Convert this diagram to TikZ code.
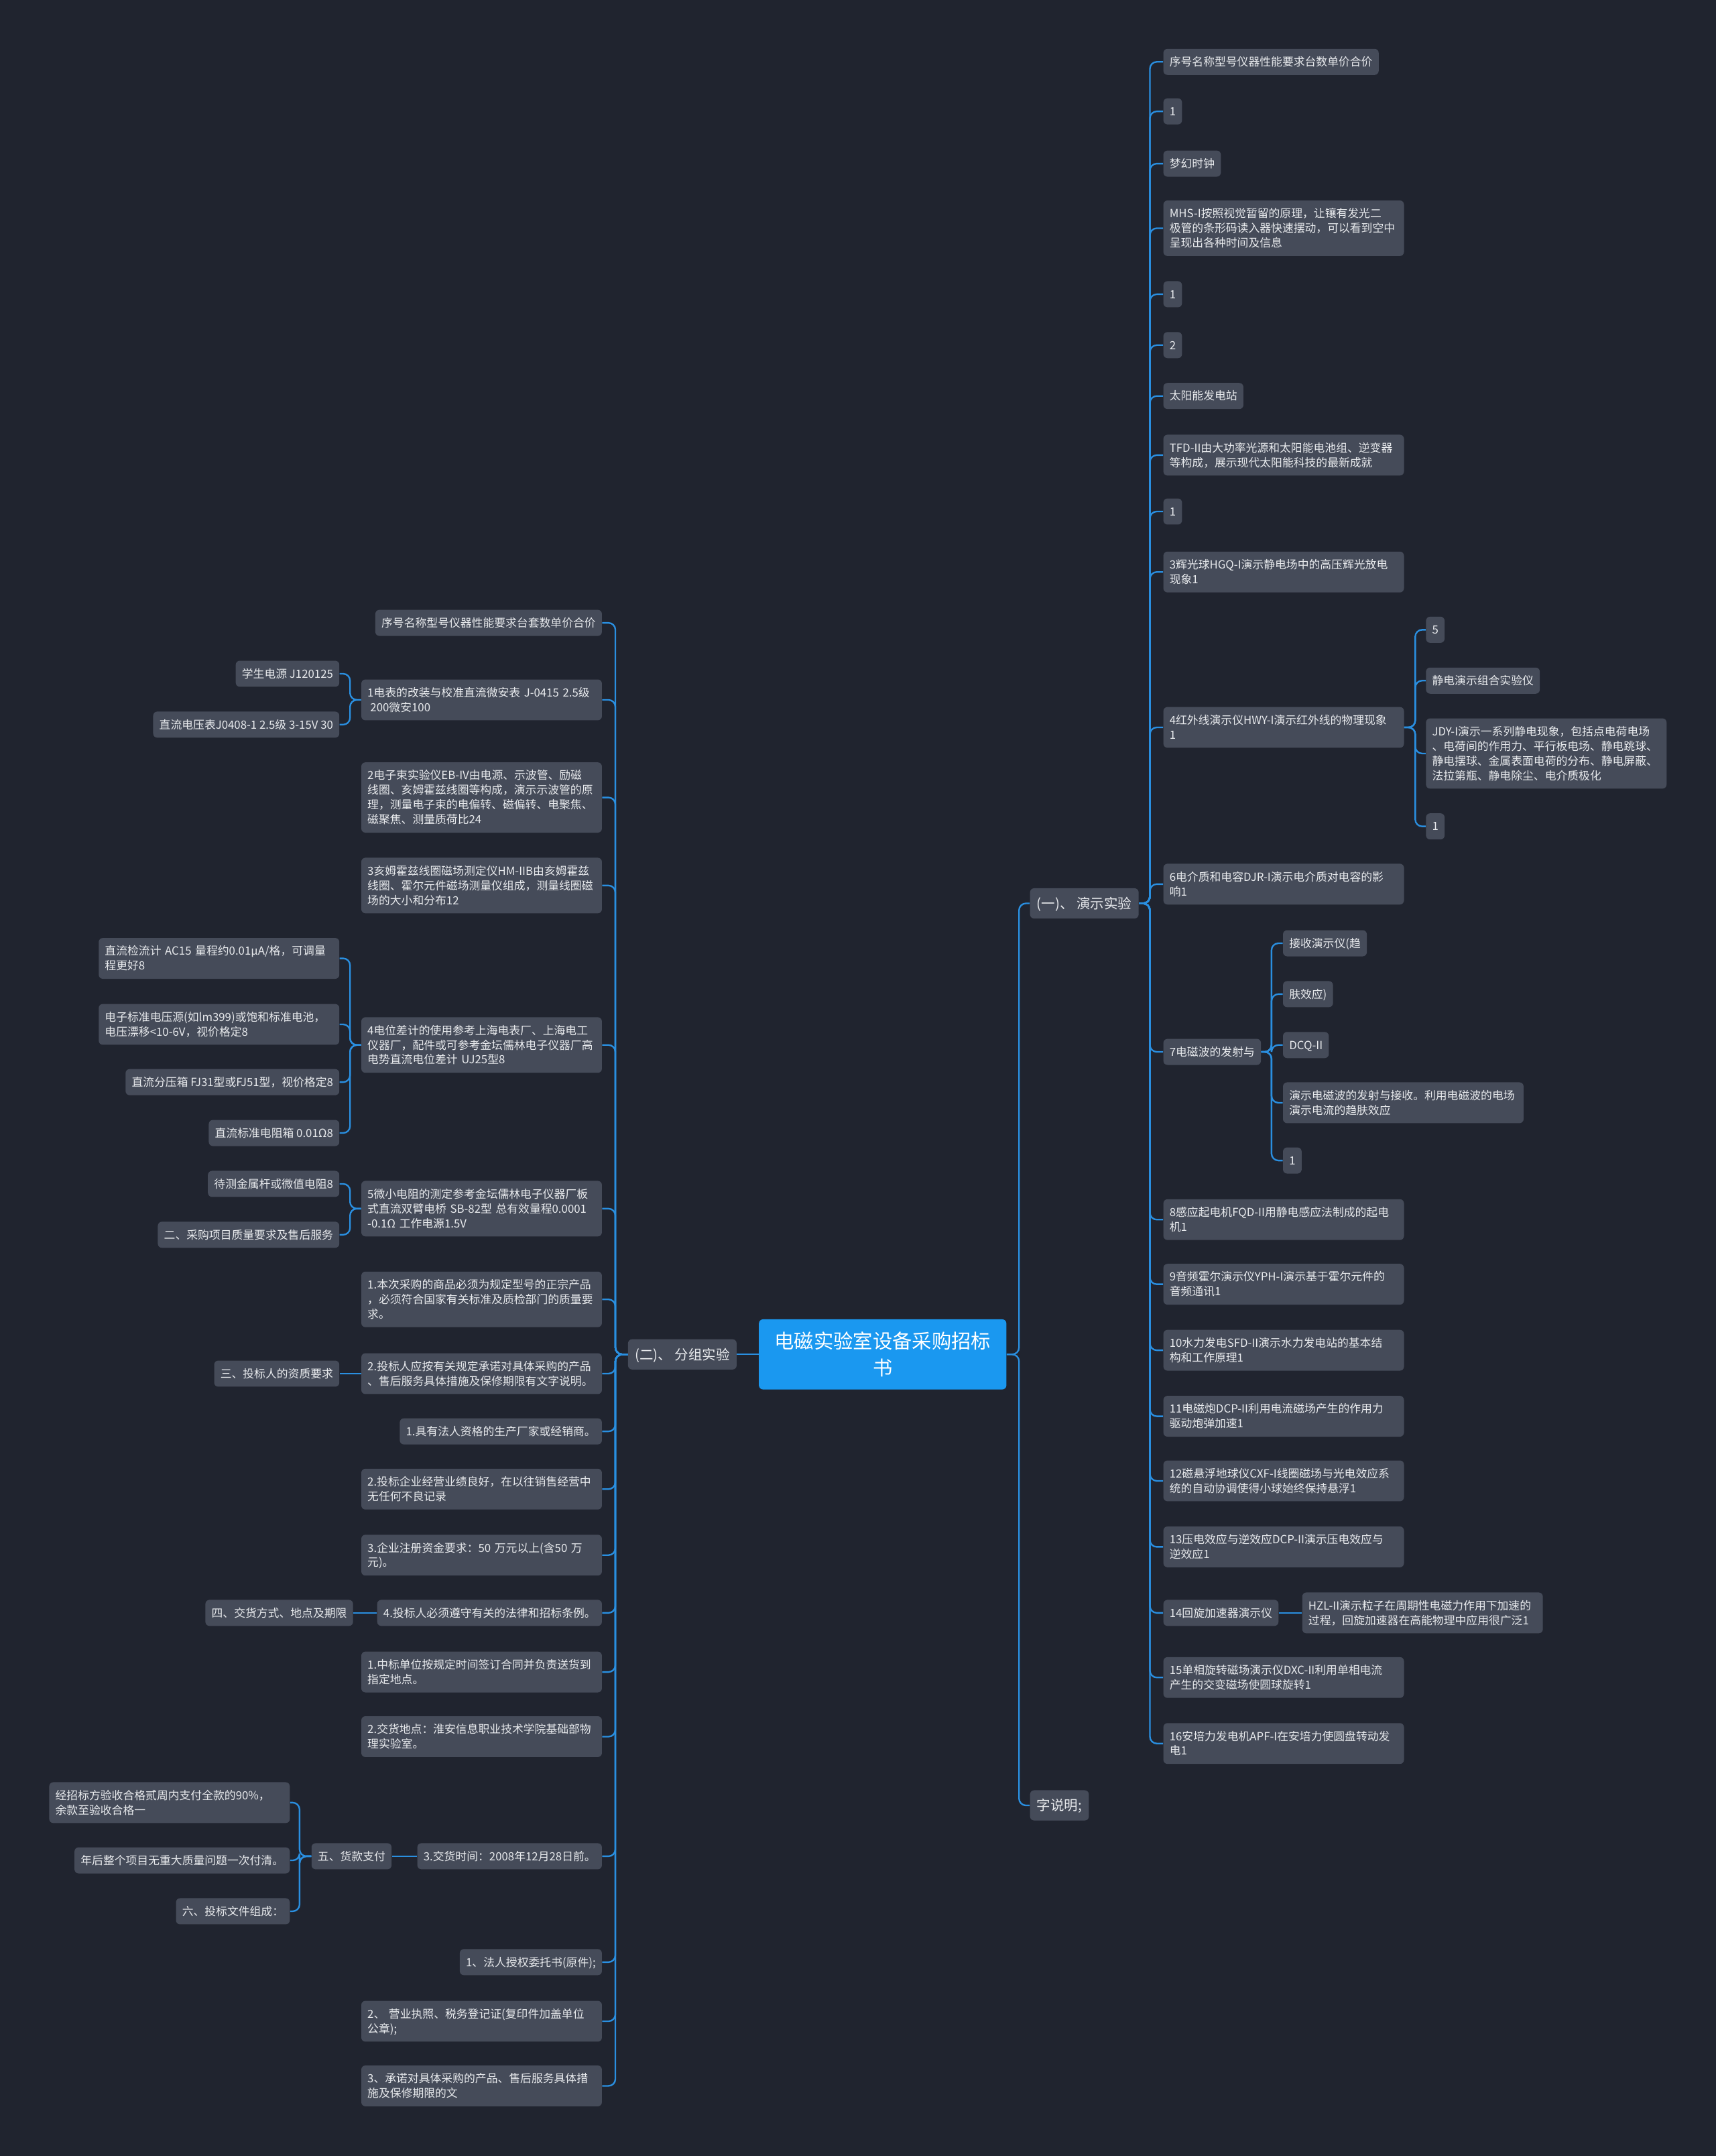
\documentclass[tikz,border=0pt]{standalone}
\usepackage{fontspec}
\newfontfamily\cjk{Noto Sans CJK SC}
\definecolor{bgc}{HTML}{20242F}
\definecolor{nodec}{HTML}{454B59}
\definecolor{linec}{HTML}{2A8FE0}
\definecolor{rootc}{HTML}{1A98F0}
\definecolor{txtc}{HTML}{E8EAED}
\newcommand{\bstrut}{\rule[-2.3pt]{0pt}{10.7pt}}
\newcommand{\lstrut}{\rule[-2.2pt]{0pt}{12pt}}
\newcommand{\rstrut}{\rule[-4.35pt]{0pt}{19.5pt}}
\tikzset{
 box/.style={fill=nodec, rounded corners=3pt, text=txtc, font=\cjk\fontsize{8.2}{10.7}\selectfont,
   inner xsep=4.5pt, inner ysep=4.15pt, align=left, execute at begin node=\bstrut, execute at end node=\bstrut},
 wide/.style={box, text width=166pt},
 rb/.style={box, anchor=west},
 lb/.style={box, anchor=east},
 rw/.style={wide, anchor=west},
 lw/.style={wide, anchor=east},
 lvl/.style={fill=nodec, rounded corners=3pt, text=txtc, font=\cjk\fontsize{10}{12}\selectfont,
   inner xsep=5pt, inner ysep=5pt, execute at begin node=\lstrut},
 rootbox/.style={fill=rootc, rounded corners=3pt, text=white, font=\cjk\fontsize{14.3}{19.5}\selectfont,
   align=center, text width=160pt, inner xsep=10pt, inner ysep=6pt, execute at begin node=\rstrut, execute at end node=\rstrut},
 conn/.style={draw=linec, line width=1.15pt, rounded corners=5pt}
}
\begin{document}
\begin{tikzpicture}[x=1pt,y=-1pt]
\fill[bgc] (0,0) rectangle (1248,1568);
\useasboundingbox (0,0) rectangle (1248,1568);

% root and level 1
\node[rootbox] (root) at (642,985) {电磁实验室设备采购招标\\书};
\node[lvl, anchor=west] (yi) at (749,657) {(一)、 演示实验};
\node[lvl, anchor=west] (zi) at (749,1313) {字说明;};
\node[lvl, anchor=east] (er) at (536,985) {(二)、 分组实验};

% right side
\node[rb] (r1) at (846,45) {序号名称型号仪器性能要求台数单价合价};
\node[rb] (r2) at (846,81) {1};
\node[rb] (r3) at (846,119) {梦幻时钟};
\node[rw] (r4) at (846,166) {MHS-I按照视觉暂留的原理，让镶有发光二\\极管的条形码读入器快速摆动，可以看到空中\\呈现出各种时间及信息};
\node[rb] (r5) at (846,214) {1};
\node[rb] (r6) at (846,251) {2};
\node[rb] (r7) at (846,288) {太阳能发电站};
\node[rw] (r8) at (846,331) {TFD-II由大功率光源和太阳能电池组、逆变器\\等构成，展示现代太阳能科技的最新成就};
\node[rb] (r9) at (846,372) {1};
\node[rw] (r10) at (846,416) {3辉光球HGQ-I演示静电场中的高压辉光放电\\现象1};
\node[rw] (r11) at (846,529) {4红外线演示仪HWY-I演示红外线的物理现象\\1};
\node[rb] (r11a) at (1037,458) {5};
\node[rb] (r11b) at (1037,495) {静电演示组合实验仪};
\node[rw] (r11c) at (1037,548) {JDY-I演示一系列静电现象，包括点电荷电场\\、电荷间的作用力、平行板电场、静电跳球、\\静电摆球、金属表面电荷的分布、静电屏蔽、\\法拉第瓶、静电除尘、电介质极化};
\node[rb] (r11d) at (1037,601) {1};
\node[rw] (r12) at (846,643) {6电介质和电容DJR-I演示电介质对电容的影\\响1};
\node[rb] (r13) at (846,765) {7电磁波的发射与};
\node[rb] (r13a) at (933,686) {接收演示仪(趋};
\node[rb] (r13b) at (933,723) {肤效应)};
\node[rb] (r13c) at (933,760) {DCQ-II};
\node[rw] (r13d) at (933,802) {演示电磁波的发射与接收。利用电磁波的电场\\演示电流的趋肤效应};
\node[rb] (r13e) at (933,844) {1};
\node[rw] (r14) at (846,887) {8感应起电机FQD-II用静电感应法制成的起电\\机1};
\node[rw] (r15) at (846,934) {9音频霍尔演示仪YPH-I演示基于霍尔元件的\\音频通讯1};
\node[rw] (r16) at (846,982) {10水力发电SFD-II演示水力发电站的基本结\\构和工作原理1};
\node[rw] (r17) at (846,1030) {11电磁炮DCP-II利用电流磁场产生的作用力\\驱动炮弹加速1};
\node[rw] (r18) at (846,1077) {12磁悬浮地球仪CXF-I线圈磁场与光电效应系\\统的自动协调使得小球始终保持悬浮1};
\node[rw] (r19) at (846,1125) {13压电效应与逆效应DCP-II演示压电效应与\\逆效应1};
\node[rb] (r20) at (846,1173) {14回旋加速器演示仪};
\node[rw] (r20a) at (947,1173) {HZL-II演示粒子在周期性电磁力作用下加速的\\过程，回旋加速器在高能物理中应用很广泛1};
\node[rw] (r21) at (846,1220) {15单相旋转磁场演示仪DXC-II利用单相电流\\产生的交变磁场使圆球旋转1};
\node[rw] (r22) at (846,1268) {16安培力发电机APF-I在安培力使圆盘转动发\\电1};

% left side
\node[lb] (l1) at (438,453) {序号名称型号仪器性能要求台套数单价合价};
\node[lw] (l2) at (438,509) {1电表的改装与校准直流微安表 J-0415 2.5级\\\hspace*{0.25em}200微安100};
\node[lb] (l2a) at (247,490) {学生电源 J120125};
\node[lb] (l2b) at (247,527) {直流电压表J0408-1 2.5级 3-15V 30};
\node[lw] (l3) at (438,580) {2电子束实验仪EB-IV由电源、示波管、励磁\\线圈、亥姆霍兹线圈等构成，演示示波管的原\\理，测量电子束的电偏转、磁偏转、电聚焦、\\磁聚焦、测量质荷比24};
\node[lw] (l4) at (438,644) {3亥姆霍兹线圈磁场测定仪HM-IIB由亥姆霍兹\\线圈、霍尔元件磁场测量仪组成，测量线圈磁\\场的大小和分布12};
\node[lw] (l5) at (438,760) {4电位差计的使用参考上海电表厂、上海电工\\仪器厂，配件或可参考金坛儒林电子仪器厂高\\电势直流电位差计 UJ25型8};
\node[lw] (l5a) at (247,697) {直流检流计 AC15 量程约0.01μA/格，可调量\\程更好8};
\node[lw] (l5b) at (247,745) {电子标准电压源(如lm399)或饱和标准电池，\\电压漂移<10-6V，视价格定8};
\node[lb] (l5c) at (247,787) {直流分压箱 FJ31型或FJ51型，视价格定8};
\node[lb] (l5d) at (247,824) {直流标准电阻箱 0.01Ω8};
\node[lw] (l6) at (438,879) {5微小电阻的测定参考金坛儒林电子仪器厂板\\式直流双臂电桥 SB-82型 总有效量程0.0001\\-0.1Ω 工作电源1.5V};
\node[lb] (l6a) at (247,861) {待测金属杆或微值电阻8};
\node[lb] (l6b) at (247,898) {二、采购项目质量要求及售后服务};
\node[lw] (l7) at (438,945) {1.本次采购的商品必须为规定型号的正宗产品\\，必须符合国家有关标准及质检部门的质量要\\求。};
\node[lw] (l8) at (438,999) {2.投标人应按有关规定承诺对具体采购的产品\\、售后服务具体措施及保修期限有文字说明。};
\node[lb] (l8a) at (247,999) {三、投标人的资质要求};
\node[lb] (l9) at (438,1041) {1.具有法人资格的生产厂家或经销商。};
\node[lw] (l10) at (438,1083) {2.投标企业经营业绩良好，在以往销售经营中\\无任何不良记录};
\node[lw] (l11) at (438,1131) {3.企业注册资金要求：50 万元以上(含50 万\\元)。};
\node[lb] (l12) at (438,1173) {4.投标人必须遵守有关的法律和招标条例。};
\node[lb] (l12a) at (257,1173) {四、交货方式、地点及期限};
\node[lw] (l13) at (438,1216) {1.中标单位按规定时间签订合同并负责送货到\\指定地点。};
\node[lw] (l14) at (438,1263) {2.交货地点：淮安信息职业技术学院基础部物\\理实验室。};
\node[lb] (l15) at (438,1350) {3.交货时间：2008年12月28日前。};
\node[lb] (l15a) at (285,1350) {五、货款支付};
\node[lw] (l15b) at (211,1311) {经招标方验收合格贰周内支付全款的90\%，\\余款至验收合格一};
\node[lb] (l15c) at (211,1353) {年后整个项目无重大质量问题一次付清。};
\node[lb] (l15d) at (211,1390) {六、投标文件组成：};
\node[lb] (l16) at (438,1427) {1、法人授权委托书(原件);};
\node[lw] (l17) at (438,1470) {2、 营业执照、税务登记证(复印件加盖单位\\公章);};
\node[lw] (l18) at (438,1517) {3、承诺对具体采购的产品、售后服务具体措\\施及保修期限的文};

% connectors
\foreach \c in {yi,zi} \draw[conn] (root.east) -- ++(9,0) |- (\c.west);
\draw[conn] (root.west) -- (er.east);
\foreach \c in {r1,r2,r3,r4,r5,r6,r7,r8,r9,r10,r11,r12,r13,r14,r15,r16,r17,r18,r19,r20,r21,r22}
  \draw[conn] (yi.east) -- ++(8,0) |- (\c.west);
\foreach \c in {r11a,r11b,r11c,r11d} \draw[conn] (r11.east) -- ++(8,0) |- (\c.west);
\foreach \c in {r13a,r13b,r13c,r13d,r13e} \draw[conn] (r13.east) -- ++(7.5,0) |- (\c.west);
\draw[conn] (r20.east) -- (r20a.west);
\foreach \c in {l1,l2,l3,l4,l5,l6,l7,l8,l9,l10,l11,l12,l13,l14,l15,l16,l17,l18}
  \draw[conn] (er.west) -- ++(-9,0) |- (\c.east);
\foreach \c in {l2a,l2b} \draw[conn] (l2.west) -- ++(-8,0) |- (\c.east);
\foreach \c in {l5a,l5b,l5c,l5d} \draw[conn] (l5.west) -- ++(-8,0) |- (\c.east);
\foreach \c in {l6a,l6b} \draw[conn] (l6.west) -- ++(-8,0) |- (\c.east);
\draw[conn] (l8.west) -- (l8a.east);
\draw[conn] (l12.west) -- (l12a.east);
\draw[conn] (l15.west) -- (l15a.east);
\foreach \c in {l15b,l15c,l15d} \draw[conn] (l15a.west) -- ++(-8.5,0) |- (\c.east);
\end{tikzpicture}
\end{document}
